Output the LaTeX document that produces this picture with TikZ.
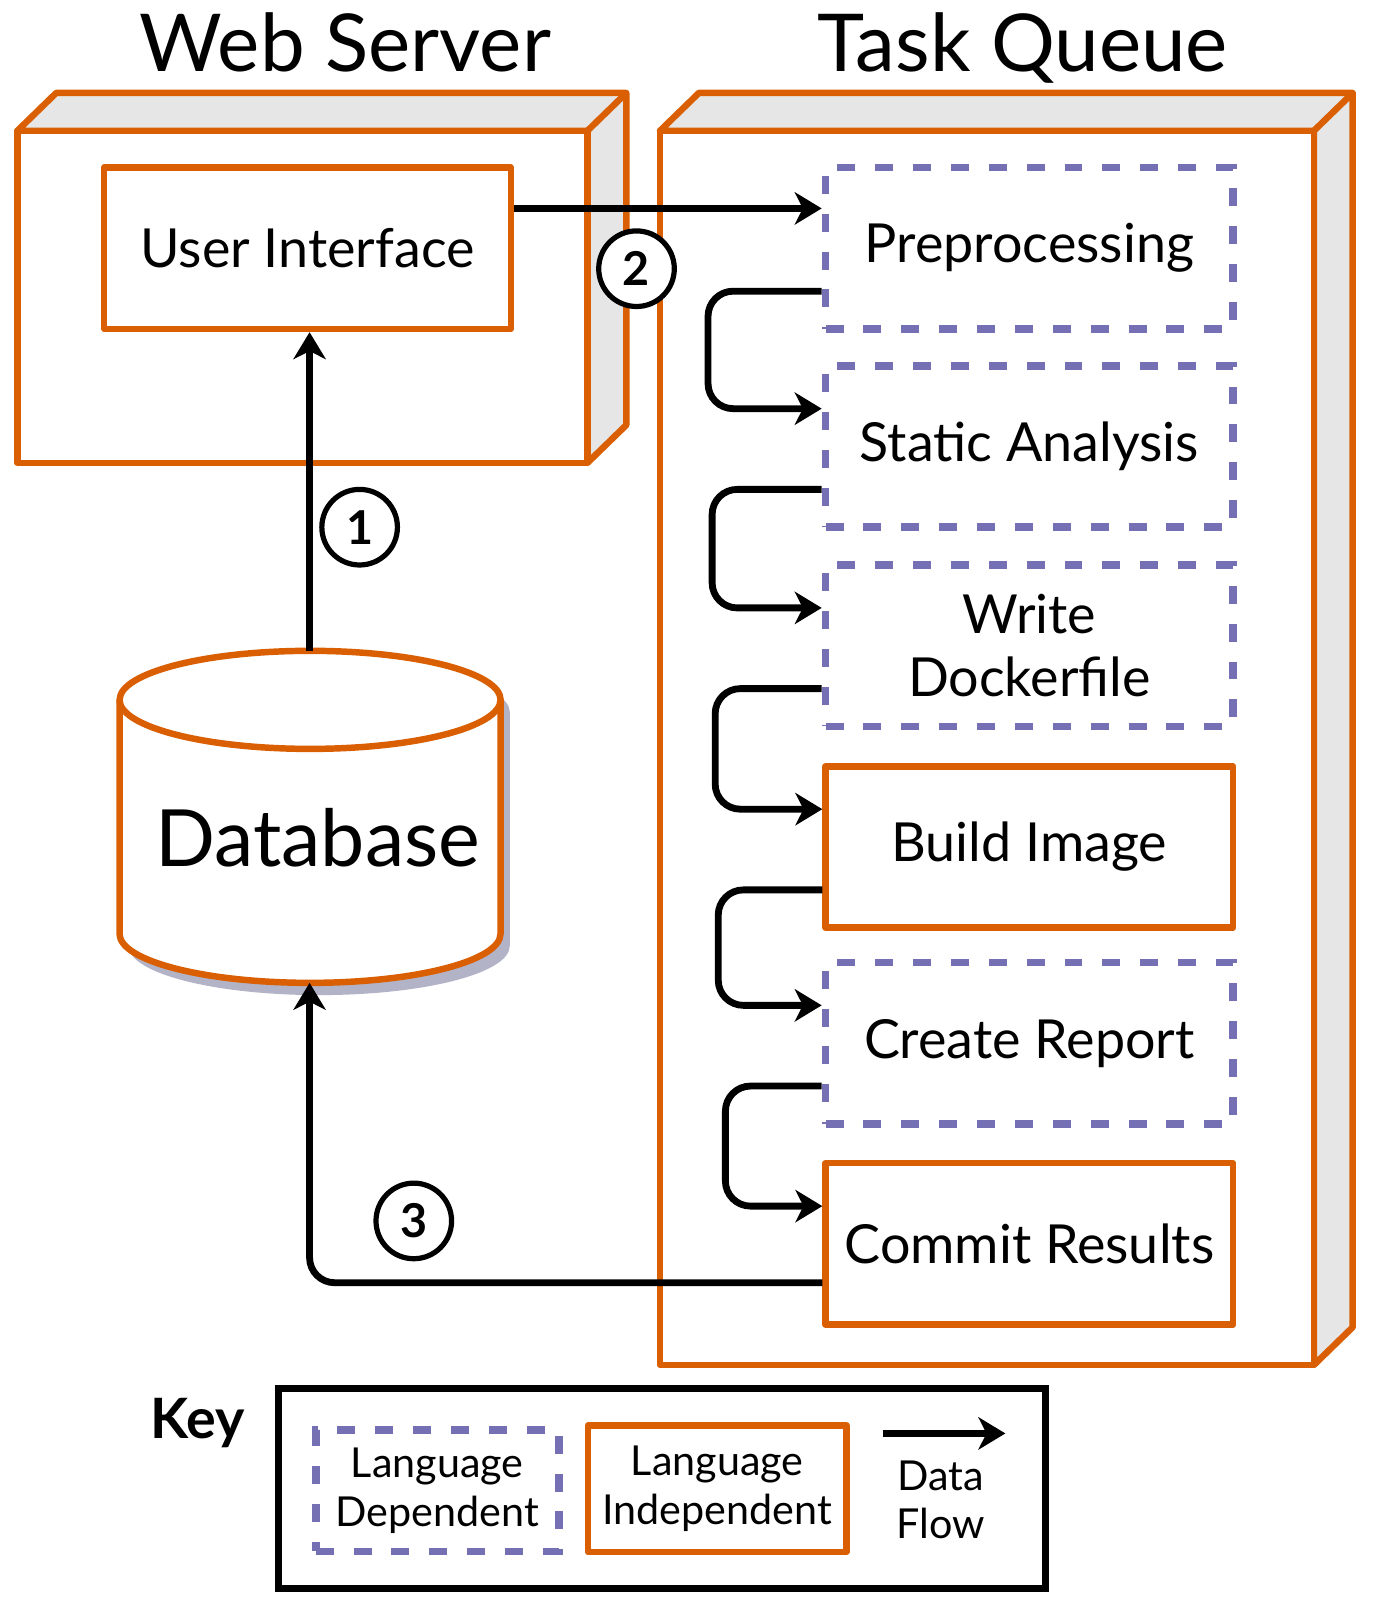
\documentclass[tikz,border=0pt]{standalone}
\usepackage{fontspec}
\setmainfont{Lato}
\usetikzlibrary{arrows.meta,calc}

\definecolor{qorange}{RGB}{217,95,2}
\definecolor{qpurple}{RGB}{117,112,179}
\definecolor{sidegray}{RGB}{230,230,230}
\definecolor{dbshadow}{RGB}{179,179,199}

\tikzset{
  boxedge/.style={draw=qorange,line width=3.6pt,line join=round},
  tasktext/.style={font=\fontsize{30}{35}\selectfont,align=center,inner sep=0pt},
  keytext/.style={font=\fontsize{23}{27}\selectfont,align=center,inner sep=0pt},
  langdep/.style={draw=qpurple,line width=4.3pt,dash pattern=on 10pt off 11.1pt,
    minimum width=7.98cm,minimum height=3.16cm,tasktext},
  langind/.style={boxedge,minimum width=7.98cm,minimum height=3.16cm,tasktext},
  flow/.style={-{Stealth[length=15pt,width=18pt,inset=4.5pt]},line width=3.8pt,
    rounded corners=14pt},
  stepnum/.style={circle,draw,line width=2.9pt,fill=white,minimum size=1.48cm,
    inner sep=0pt,font=\bfseries\fontsize{26}{26}\selectfont},
  title/.style={font=\fontsize{44.5}{44.5}\selectfont,anchor=base,inner sep=0pt}
}

\newcommand{\cuboid}[4]{%
  \filldraw[boxedge,fill=sidegray] (#1,#2) -- (#1+38,#2-37) -- (#3+38,#2-37)
    -- (#3+38,#4-37) -- (#3,#4) -- (#3,#2) -- cycle;
  \draw[boxedge] (#3,#2) -- (#3+38,#2-37);
  \filldraw[boxedge,fill=white] (#1,#2) rectangle (#3,#4);
}

\begin{document}
\begin{tikzpicture}[x=0.02cm,y=-0.02cm]
\useasboundingbox (0,0) rectangle (1350,1568);

\node[title] (wstitle) at (338,70) {Web Server};
\node[title] (tqtitle) at (1001,70) {Task Queue};

\cuboid{17}{128}{575}{453}
\cuboid{646}{128}{1286}{1336}

\node[langind,minimum width=7.96cm] (ui) at (301,243) {User Interface};

\foreach \nm/\yy/\st/\txt in {pre/243/langdep/Preprocessing,
    static/437/langdep/Static Analysis, docker/632/langdep/{Write\\Dockerfile},
    build/829/langind/Build Image, report/1021/langdep/Create Report,
    commit/1217.5/langind/Commit Results}
  \node[\st] (\nm) at (1007.5,\yy) {\txt};

% database
\coordinate (dbtop) at (303,637);
\coordinate (dbbot) at (303,962);
\fill[dbshadow,shift={(9,12)}] (117,685) -- (117,914)
  arc[start angle=180,end angle=360,x radius=3.73cm,y radius=0.96cm] -- (490,685)
  arc[start angle=0,end angle=180,x radius=3.73cm,y radius=0.96cm] -- cycle;
\filldraw[boxedge,fill=white] (117,685) -- (117,914)
  arc[start angle=180,end angle=360,x radius=3.73cm,y radius=0.96cm] -- (490,685)
  arc[start angle=0,end angle=180,x radius=3.73cm,y radius=0.96cm] -- cycle;
\draw[boxedge] (117,685) arc[start angle=180,end angle=360,x radius=3.73cm,y radius=0.96cm];
\node[font=\fontsize{44}{44}\selectfont,inner sep=0pt] (db) at (311,820) {Database};

\draw[flow] (dbtop) -- (dbtop |- ui.south);
\draw[flow] ($(ui.east)+(0,-39)$) -- ($(pre.west)+(0,-39)$);
\foreach \a/\b/\xx in {pre/static/693,static/docker/697,docker/build/700,
    build/report/703,report/commit/710}
  \draw[flow] ($(\a.west)+(0,42)$) -| (\xx,0 |- {$(\b.west)+(0,-37)$}) -- ($(\b.west)+(0,-37)$);
\draw[flow] ($(commit.west)+(0,38)$) -| (dbbot);

\node[stepnum] (n1) at (352,516) {1};
\node[stepnum] (n2) at (623,263) {2};
\node[stepnum] (n3) at (405,1195) {3};

% key
\node[font=\bfseries\fontsize{31}{31}\selectfont,anchor=base,inner sep=0pt] (keylbl) at (193,1408) {Key};
\node[draw,line width=3.8pt,minimum width=15.02cm,minimum height=3.92cm] (keybox) at (648,1457) {};
\node[langdep,keytext,minimum width=4.76cm,minimum height=2.38cm] (kdep) at (428,1459) {Language\\Dependent};
\node[langind,keytext,minimum width=5.06cm,minimum height=2.48cm] (kind) at (702,1457) {Language\\Independent};
\coordinate (fl0) at (864,1403);
\coordinate (fl1) at (984,1403);
\draw[flow] (fl0) -- (fl1);
\node[keytext] (kflow) at (921,1468) {Data\\Flow};
\end{tikzpicture}
\end{document}
